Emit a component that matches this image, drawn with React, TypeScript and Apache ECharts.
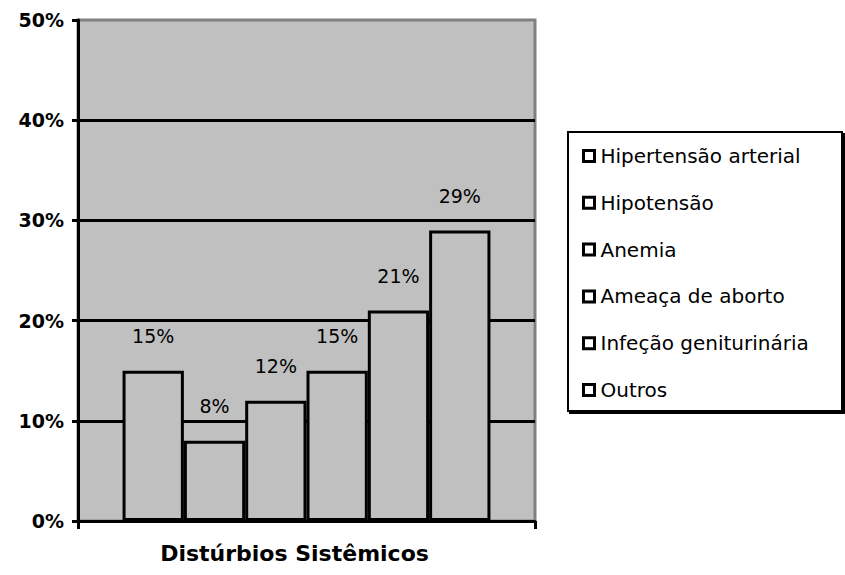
import React, { useEffect, useRef } from "react";
import * as echarts from "echarts";

const CATEGORY = ["Distúrbios Sistêmicos"];
const SERIES_NAMES = [
  "Hipertensão arterial",
  "Hipotensão",
  "Anemia",
  "Ameaça de aborto",
  "Infeção geniturinária",
  "Outros",
];
const SERIES_VALUES = [15, 8, 12, 15, 21, 29];
const Y_MIN = 0;
const Y_MAX = 50;
const Y_STEP = 10;

const FONT = "DejaVu Sans";

export default function App() {
  const ref = useRef<HTMLDivElement>(null);

  useEffect(() => {
    if (!ref.current) return;
    const chart = echarts.init(ref.current, undefined, { renderer: "svg" });
    const option: any = {
      animation: false,
      backgroundColor: "#ffffff",
      textStyle: { fontFamily: FONT },
      grid: {
        left: 78,
        right: 310,
        top: 20,
        bottom: 54,
        show: true,
        backgroundColor: "#c0c0c0",
        borderColor: "#808080",
        borderWidth: 3,
      },
      graphic: [
        {
          type: "rect",
          left: 567,
          top: 131,
          z: 0,
          shape: { x: 0, y: 0, width: 274, height: 279 },
          style: {
            fill: "#ffffff",
            stroke: "#000000",
            lineWidth: 2,
            shadowColor: "#000000",
            shadowOffsetX: 2,
            shadowOffsetY: 2,
            shadowBlur: 0,
          },
        },
      ],
      legend: {
        orient: "vertical",
        left: 577,
        top: 141,
        z: 10,
        icon: "rect",
        itemWidth: 11,
        itemHeight: 11,
        itemGap: 26.8,
        itemStyle: { color: "#ffffff", borderColor: "#000000", borderWidth: 3 },
        textStyle: {
          fontFamily: FONT,
          fontSize: 20,
          color: "#000000",
          lineHeight: 20,
          padding: [0, 0, 0, 1],
        },
        data: SERIES_NAMES,
      },
      xAxis: {
        type: "category",
        data: CATEGORY,
        axisLine: { lineStyle: { color: "#000000", width: 3 } },
        axisTick: { show: true, length: 8, lineStyle: { color: "#000000", width: 3 } },
        axisLabel: {
          fontFamily: FONT,
          fontSize: 22,
          fontWeight: "bold",
          color: "#000000",
          margin: 21,
          padding: [0, 24, 0, 0],
        },
        splitLine: { show: false },
      },
      yAxis: {
        type: "value",
        min: Y_MIN,
        max: Y_MAX,
        interval: Y_STEP,
        axisLine: { show: true, lineStyle: { color: "#000000", width: 3 } },
        axisTick: { show: true, length: 6, lineStyle: { color: "#000000", width: 3 } },
        axisLabel: {
          formatter: "{value}%",
          fontFamily: FONT,
          fontSize: 19,
          fontWeight: "bold",
          color: "#000000",
          margin: 14,
        },
        splitLine: {
          show: true,
          showMinLine: false,
          showMaxLine: false,
          lineStyle: { color: "#000000", width: 3 },
        },
      },
      series: SERIES_NAMES.map((name, i) => ({
        name,
        type: "bar",
        data: [SERIES_VALUES[i]],
        barGap: "0%",
        barCategoryGap: "19.5%",
        itemStyle: { color: "#c0c0c0", borderColor: "#000000", borderWidth: 3 },
        label: {
          show: true,
          position: "top",
          distance: 25,
          formatter: "{c}%",
          fontFamily: FONT,
          fontSize: 19,
          color: "#000000",
        },
      })),
    };
    chart.setOption(option);
    return () => chart.dispose();
  }, []);

  return (
    <div
      ref={ref}
      style={{ position: "fixed", left: 0, top: 0, width: 845, height: 575 }}
    />
  );
}
